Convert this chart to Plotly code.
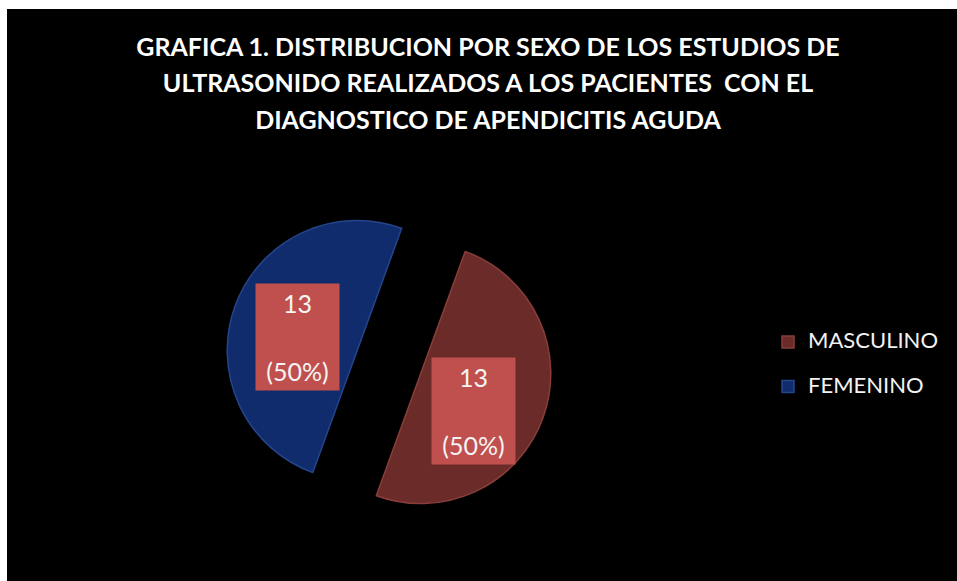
import math
import plotly.graph_objects as go

# ---- data ----
categories = ["MASCULINO", "FEMENINO"]
counts = [13, 13]
slice_colors = ["#6A2B29", "#112C6C"]
edge_colors = ["#8A3E3B", "#24458C"]
title_lines = [
    "GRAFICA 1. DISTRIBUCION POR SEXO DE LOS ESTUDIOS DE",
    "ULTRASONIDO REALIZADOS A LOS PACIENTES  CON EL",
    "DIAGNOSTICO DE APENDICITIS AGUDA",
]

# ---- geometry / style ----
W, H = 957, 581
rotation = 20          # degrees clockwise from 12 o'clock
pull = 0.26
radius_px = 130
cx_px, cy_px = 389, 362
label_frac = 0.475     # label distance beyond pull, fraction of radius
label_rot = 2.5        # small extra angle for the label boxes
label_cx, label_cy = 385.5, 374

half = radius_px * (1 + pull)
dom_x = [(cx_px - half) / W, (cx_px + half) / W]
dom_y = [(H - cy_px - half) / H, (H - cy_px + half) / H]

legend_labels = [f"<span style='font-size:22px'>{c}</span><br> " for c in categories]

fig = go.Figure()
fig.add_trace(go.Pie(
    labels=legend_labels,
    values=counts,
    sort=False,
    direction="clockwise",
    rotation=rotation,
    pull=[pull] * len(counts),
    marker=dict(colors=slice_colors, line=dict(color=edge_colors, width=1.5)),
    textinfo="none",
    hoverinfo="value+percent",
    domain=dict(x=dom_x, y=dom_y),
    showlegend=True,
))

# data-label boxes derived from the slice angles
total = sum(counts)
start = rotation
annotations = []
for v in counts:
    span = 360 * v / total
    mid = math.radians(start + span / 2 + label_rot)
    start += span
    d = radius_px * (pull + label_frac)
    px = label_cx + d * math.sin(mid)
    py = label_cy - d * math.cos(mid)
    pct = round(100 * v / total)
    annotations.append(dict(
        x=px / W, y=1 - py / H, xref="paper", yref="paper",
        text=f"<span style='font-size:25px'>{v}</span><br><br><span style='font-size:25px'>({pct}%)</span>",
        showarrow=False, bgcolor="#C0504D", width=81, height=104,
        font=dict(family="Lato", size=26, color="#F4F4F4"),
        xanchor="center", yanchor="middle", align="center",
    ))

title_html = "<br>".join(f"<span style='font-size:25px'>{t}</span>" for t in title_lines)

fig.update_layout(
    width=W, height=H,
    margin=dict(l=0, r=0, t=0, b=0),
    paper_bgcolor="white",
    plot_bgcolor="black",
    shapes=[dict(type="rect", xref="paper", yref="paper",
                 x0=7 / W, x1=1, y0=0, y1=1 - 9 / H,
                 fillcolor="black", line=dict(width=0), layer="below")],
    title=dict(text=title_html, x=488 / W, xanchor="center",
               y=1 - 56 / H, yanchor="top",
               font=dict(family="Lato", size=28, color="white", weight="bold")),
    legend=dict(x=768 / W, y=1 - 325 / H, xanchor="left", yanchor="top",
                font=dict(family="Lato", size=16, color="#F2F2F2"),
                bgcolor="rgba(0,0,0,0)", valign="top"),
    annotations=annotations,
)

fig.write_html("out.html", config={"displayModeBar": False},
               post_script="document.body.style.margin='0px';")
